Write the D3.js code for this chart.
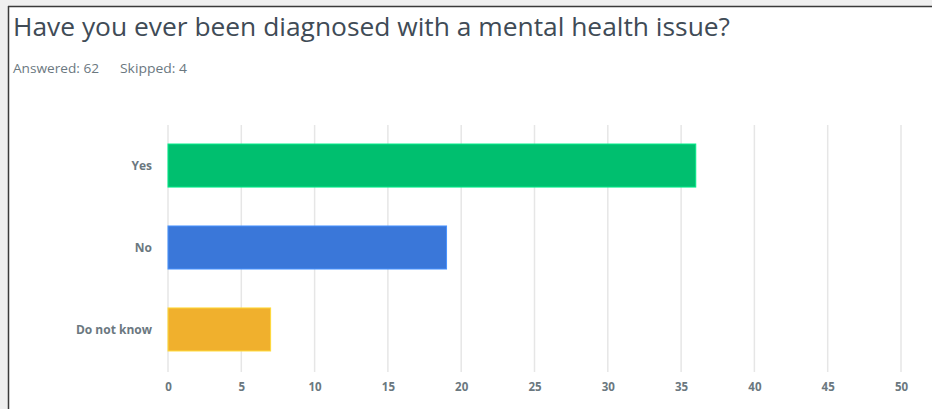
<!DOCTYPE html>
<html><head><meta charset="utf-8">
<script src="https://cdn.jsdelivr.net/npm/d3@7"></script>
<style>
html,body{margin:0;padding:0;background:#fff;}
svg{display:block;}
</style></head>
<body>
<svg id="chart" width="932" height="409"></svg>
<script>
const title = "Have you ever been diagnosed with a mental health issue?";
const answeredText = "Answered: 62";
const skippedText = "Skipped: 4";
const categories = ["Yes", "No", "Do not know"];
const values = [36, 19, 7];
const colors = ["#00bf6f", "#3a77d9", "#f0b02d"];
const xTicks = [0, 5, 10, 15, 20, 25, 30, 35, 40, 45, 50];

const svg = d3.select("#chart");
const W = 932, H = 409;

// page frame
svg.append("rect").attr("x",0).attr("y",0).attr("width",W).attr("height",H).attr("fill","#efefef");
svg.append("rect").attr("x",9).attr("y",7).attr("width",W-9).attr("height",H-7).attr("fill","#fff");
svg.append("line").attr("x1",8.5).attr("x2",8.5).attr("y1",6).attr("y2",H).attr("stroke","#3a3a3a").attr("stroke-width",1.5);
svg.append("line").attr("x1",8).attr("x2",W).attr("y1",6.5).attr("y2",6.5).attr("stroke","#3a3a3a").attr("stroke-width",1.5);

// title
const t = svg.append("text").attr("x",13).attr("y",36)
  .attr("font-family","'Open Sans', sans-serif").attr("font-size",25)
  .attr("fill","#404b56").text(title);
const tl = t.node().getComputedTextLength();
if (tl > 0) t.attr("textLength", 717).attr("lengthAdjust","spacingAndGlyphs");

const a = svg.append("text").attr("x",13).attr("y",73)
  .attr("font-family","'Open Sans', sans-serif").attr("font-size",13)
  .attr("fill","#6b787f").text(answeredText);
if (a.node().getComputedTextLength() > 0) a.attr("textLength", 86).attr("lengthAdjust","spacingAndGlyphs");
const s = svg.append("text").attr("x",120).attr("y",73)
  .attr("font-family","'Open Sans', sans-serif").attr("font-size",13)
  .attr("fill","#6b787f").text(skippedText);
if (s.node().getComputedTextLength() > 0) s.attr("textLength", 67).attr("lengthAdjust","spacingAndGlyphs");

// scales
const x = d3.scaleLinear().domain([0, 50]).range([168, 901]);
const y = d3.scaleBand().domain(categories).range([125, 370]).paddingInner(0.475).paddingOuter(0.232);

// gridlines
svg.append("g").selectAll("line").data(xTicks).join("line")
  .attr("x1", d => x(d)).attr("x2", d => x(d))
  .attr("y1", 125).attr("y2", 372)
  .attr("stroke", "#e6e6e6").attr("stroke-width", 1.5);

// bars
svg.append("g").selectAll("rect").data(categories).join("rect")
  .attr("x", x(0))
  .attr("y", d => y(d))
  .attr("width", (d,i) => x(values[i]) - x(0))
  .attr("height", y.bandwidth())
  .attr("fill", (d,i) => colors[i])
  .attr("stroke", (d,i) => d3.color(colors[i]).brighter(0.6))
  .attr("stroke-width", 1);

// y labels
svg.append("g").selectAll("text").data(categories).join("text")
  .attr("x", 152)
  .attr("y", d => y(d) + y.bandwidth()/2)
  .attr("dy", "0.35em")
  .attr("text-anchor", "end")
  .attr("font-family","'Open Sans', sans-serif").attr("font-size",12).attr("font-weight","bold")
  .attr("fill","#6b787f")
  .text(d => d);

// x tick labels
const xAxis = svg.append("g").attr("transform","translate(0,383)")
  .call(d3.axisBottom(x).tickValues(xTicks).tickSize(0).tickPadding(0));
xAxis.select(".domain").remove();
xAxis.selectAll("text")
  .attr("dy","0.71em")
  .attr("font-family","'Open Sans', sans-serif").attr("font-size",11.5).attr("font-weight","bold")
  .attr("fill","#6b787f");
</script>
</body></html>
